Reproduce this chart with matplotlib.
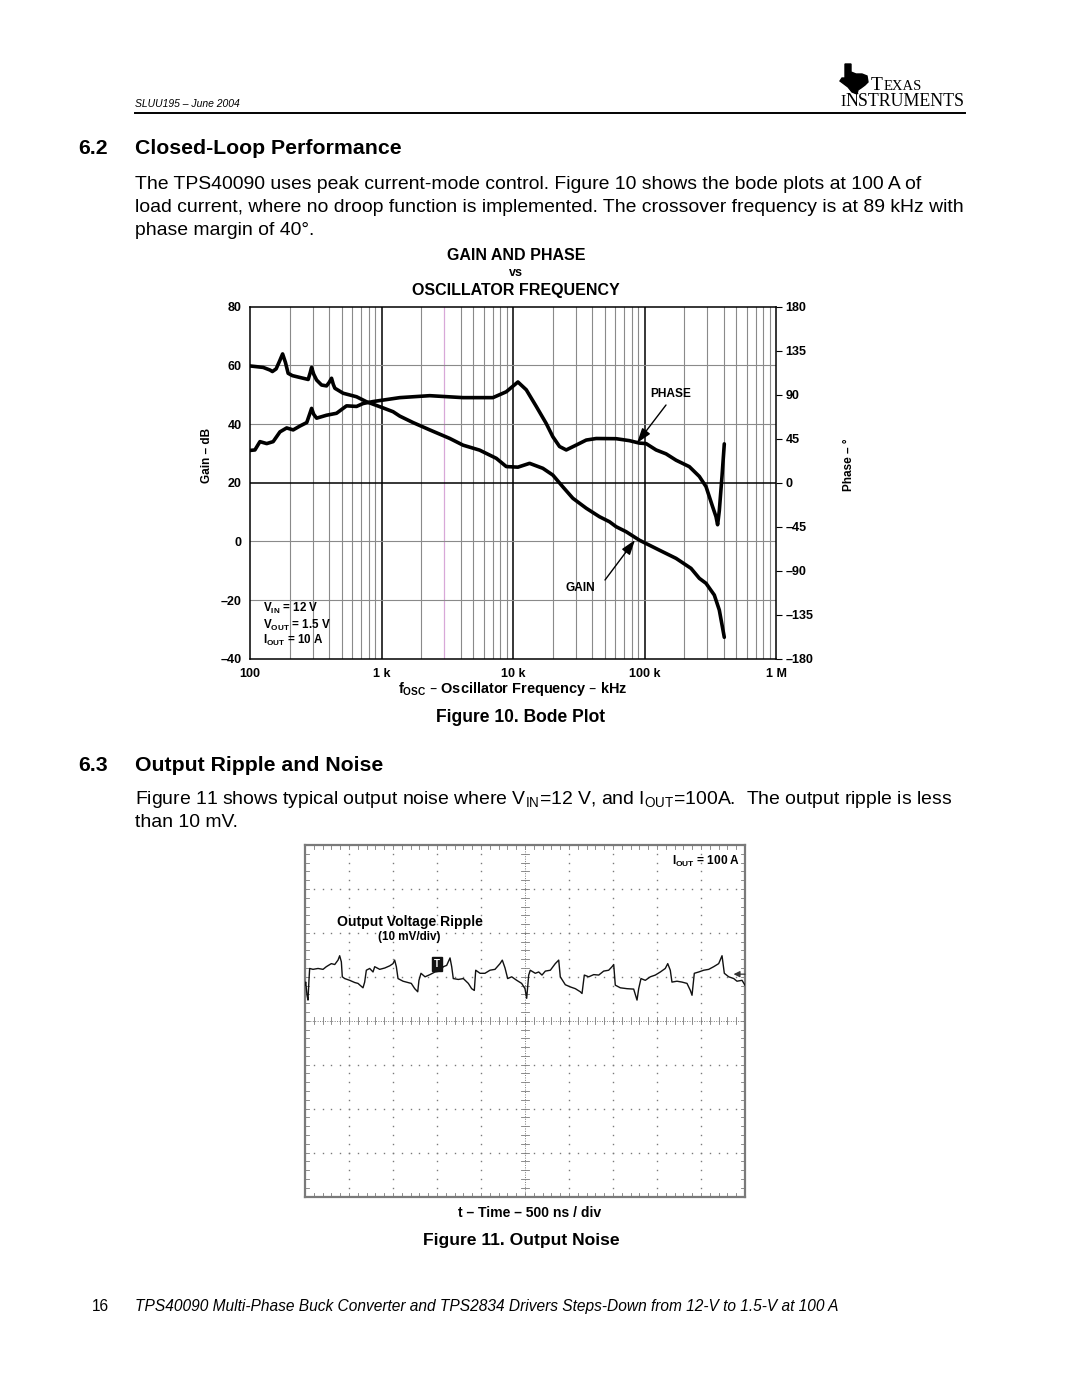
import matplotlib
matplotlib.use('Agg')
import matplotlib.pyplot as plt
from matplotlib.patches import Polygon
from matplotlib.lines import Line2D

plt.rcParams['font.family'] = ['Liberation Sans', 'DejaVu Sans']
plt.rcParams['mathtext.default'] = 'regular'

# ---------------- data ----------------
gain_freq_hz = [100, 126, 142, 148, 158, 168, 177, 186, 195, 210,
                254, 277, 287, 294, 305, 321, 350, 382, 400, 417,
                430, 442, 511, 646, 769, 1000, 1225, 1377, 1738, 2327,
                3300, 4168, 5575, 7470, 8890, 10900, 13370, 16870, 20090, 23920,
                28510, 36040, 45470, 54100, 60850, 72450, 91480, 129800, 173800, 225800,
                261200, 293600, 339500, 370500, 404400]
gain_db = [59.8, 59.3, 58.4, 57.9, 58.8, 61.5, 63.9, 61.0, 57.3, 56.5,
           55.6, 55.2, 57.5, 59.3, 57.0, 55.0, 53.3, 53.0, 54.2, 55.6,
           53.5, 52.2, 50.5, 49.3, 47.6, 45.7, 44.2, 42.7, 40.5, 38.0,
           35.1, 32.8, 31.1, 28.3, 25.5, 25.3, 26.6, 24.9, 22.6, 18.6,
           14.7, 11.3, 8.4, 6.7, 5.0, 3.3, 0.4, -3.0, -5.8, -9.2,
           -12.6, -14.3, -18.3, -23.4, -32.7]

phase_freq_hz = [100, 109, 119, 134, 150, 169, 190, 213, 240, 270,
                 284, 294, 305, 321, 382, 455, 542, 646, 725, 863,
                 1091, 1377, 2327, 4168, 7033, 7910, 8890, 10900, 12620, 15030,
                 17900, 20090, 22590, 25400, 30260, 36040, 42940, 60850, 76800, 91480,
                 102800, 122500, 145900, 173800, 219300, 261200, 293600, 329500, 349800, 359700,
                 370500, 388400, 404400]
phase_deg = [33, 33.5, 42, 40, 42, 52, 56, 54, 58, 61.5,
             70, 76, 70, 66, 69, 71, 78.6, 78, 81, 83,
             85, 87, 89, 87, 87, 90, 93, 103, 95, 78,
             60.5, 47, 37, 33.5, 38.5, 43.6, 45.2, 45, 43, 40.5,
             40, 33.5, 29.5, 23, 16.4, 6.4, -4, -24.5, -34.8, -43,
             -28.7, 6.4, 39.7]

gain_ticks = [-40, -20, 0, 20, 40, 60, 80]
gain_tick_labels = ['\u201340', '\u201320', '0', '20', '40', '60', '80']
phase_ticks = [-180, -135, -90, -45, 0, 45, 90, 135, 180]
phase_tick_labels = ['\u2013180', '\u2013135', '\u201390', '\u201345', '0', '45', '90', '135', '180']
freq_ticks = [100, 1000, 10000, 100000, 1000000]
freq_tick_labels = ['100', '1 k', '10 k', '100 k', '1 M']

time_ns = [0, 8, 23, 34, 45, 53, 91, 148, 205, 242,
           299, 338, 375, 394, 413, 424, 451, 508, 565, 602,
           659, 678, 697, 735, 773, 792, 849, 906, 963, 1000,
           1019, 1038, 1057, 1114, 1170, 1208, 1247, 1281, 1295, 1318,
           1364, 1420, 1477, 1534, 1572, 1610, 1648, 1667, 1685, 1742,
           1799, 1856, 1894, 1924, 1940, 1989, 2045, 2102, 2159, 2216,
           2242, 2273, 2303, 2349, 2406, 2462, 2500, 2519, 2542, 2560,
           2617, 2656, 2693, 2731, 2788, 2844, 2883, 2901, 2958, 3015,
           3072, 3128, 3148, 3174, 3224, 3281, 3338, 3394, 3451, 3489,
           3508, 3526, 3583, 3659, 3735, 3773, 3792, 3818, 3867, 3924,
           3981, 4038, 4094, 4122, 4151, 4170, 4227, 4284, 4341, 4379,
           4398, 4424, 4474, 4531, 4588, 4644, 4701, 4739, 4765, 4815,
           4872, 4909, 4966, 5000]
ripple_mv = [8.1, 8.8, 5.8, 4.7, 9.2, 11.9, 11.7, 11.9, 11.7, 12.3,
             13.0, 12.8, 13.8, 14.8, 13.4, 10.0, 9.6, 9.2, 8.7, 8.5,
             7.5, 8.8, 11.5, 11.9, 11.1, 12.3, 11.7, 12.0, 12.5, 13.0,
             13.8, 12.3, 9.6, 9.0, 8.7, 8.5, 7.3, 6.6, 9.2, 10.8,
             10.0, 10.5, 11.1, 11.3, 12.3, 12.6, 14.3, 12.3, 9.6, 9.4,
             9.6, 8.5, 7.3, 6.9, 11.5, 10.8, 10.8, 11.5, 11.7, 13.0,
             13.8, 12.0, 9.6, 10.0, 9.2, 8.5, 7.3, 5.1, 10.4, 11.5,
             10.8, 11.1, 10.4, 11.3, 11.5, 13.0, 13.8, 10.0, 8.2, 7.7,
             7.3, 6.6, 6.2, 10.4, 10.0, 10.5, 10.4, 11.3, 11.5, 12.3,
             12.8, 8.1, 7.5, 7.3, 7.2, 4.7, 7.3, 9.6, 9.2, 10.0,
             10.4, 11.1, 11.9, 13.0, 11.5, 8.8, 9.0, 8.8, 8.5, 6.9,
             5.8, 10.8, 11.1, 11.5, 11.7, 12.3, 13.0, 14.8, 10.8, 10.0,
             9.6, 9.0, 9.2, 8.1]

# ---------------- figure helpers ----------------
W, H = 1080, 1397
fig = plt.figure(figsize=(W / 100, H / 100), dpi=100)
fig.patch.set_facecolor('white')
R = fig.canvas.get_renderer()


def fx(x):
    return x / W


def fy(y):
    return 1 - y / H


def put(x, y, s, size, ha='left', va='baseline', **kw):
    return fig.text(fx(x), fy(y), s, fontsize=size, ha=ha, va=va, **kw)


def fit(x0, x1, y, s, ha='left', **kw):
    xa = x0 if ha == 'left' else (x0 + x1) / 2
    t = put(xa, y, s, 10, ha=ha, **kw)
    w = t.get_window_extent(R).width
    t.set_fontsize(10 * (x1 - x0) / w)
    return t


# ---------------- page header ----------------
fit(135, 240, 107, 'SLUU195 \u2013 June 2004', style='italic')
fig.add_artist(Line2D([fx(135), fx(965)], [fy(112.5), fy(112.5)], color='black', lw=1.4))

serif = ['Liberation Serif', 'DejaVu Serif']
tT = put(871, 90, 'T', 14, family=serif)
x_after = tT.get_window_extent(R).x1
put(x_after + 0.5, 90, 'EXAS', 10.5, family=serif)
tI = put(840, 106.5, 'I', 11.5, family=serif)
x_after = tI.get_window_extent(R).x1
fit(x_after, 965, 106.5, 'NSTRUMENTS', family=serif)
logo = [(845, 64), (851, 64), (851, 72), (856, 74), (862, 74), (867, 76),
        (868, 82), (865, 85), (861, 88), (858, 90), (857, 94), (852, 92),
        (848, 87), (844, 84), (840, 81), (842, 78), (845, 78)]
fig.add_artist(Polygon([(fx(a), fy(b)) for a, b in logo], closed=True,
                       transform=fig.transFigure, fc='black', ec='black'))

# ---------------- section 6.2 ----------------
th = fit(135, 400, 154, 'Closed-Loop Performance', weight='bold')
fs_head = th.get_fontsize()
put(78, 154, '6.2', fs_head, weight='bold')

tb = fit(135, 963, 212, 'load current, where no droop function is implemented. '
         'The crossover frequency is at 89 kHz with')
fs_body = tb.get_fontsize()
put(135, 189, 'The TPS40090 uses peak current-mode control. Figure 10 shows the bode plots at 100 A of', fs_body)
put(135, 235, 'phase margin of 40\u00b0.', fs_body)

fit(448, 585, 260, 'GAIN AND PHASE', ha='center', weight='bold')
put(516, 276, 'vs', 9, ha='center', weight='bold')
fit(412, 619, 295, 'OSCILLATOR FREQUENCY', ha='center', weight='bold')

# ---------------- Bode plot ----------------
ax = fig.add_axes([fx(250), fy(658.7), (776 - 250) / W, (658.7 - 306.7) / H])
ax.set_xscale('log')
ax.set_xlim(100, 1e6)
ax.set_ylim(-40, 80)
for dec in [100, 1000, 10000, 100000]:
    for k in range(1, 10):
        f = k * dec
        if 100 < f < 1e6:
            if k == 1:
                ax.axvline(f, color='black', lw=1.1, zorder=1)
            elif f == 3000:
                ax.axvline(f, color='#d8a8d8', lw=0.9, zorder=1)
            else:
                ax.axvline(f, color='#8a8a8a', lw=0.8, zorder=1)
for g in [-20, 0, 40, 60]:
    ax.axhline(g, color='#8a8a8a', lw=0.8, zorder=1)
ax.axhline(20, color='black', lw=1.1, zorder=1)

ax.plot(gain_freq_hz, gain_db, color='black', lw=2.6, solid_capstyle='round',
        solid_joinstyle='round', zorder=3)

ax.set_xticks(freq_ticks)
ax.set_xticklabels(freq_tick_labels)
ax.xaxis.set_minor_locator(matplotlib.ticker.NullLocator())
ax.set_yticks(gain_ticks)
ax.set_yticklabels(gain_tick_labels)
ax.tick_params(axis='both', length=0, labelsize=9)
ax.tick_params(axis='y', pad=6)
ax.tick_params(axis='x', pad=6.5)
for lab in ax.get_xticklabels() + ax.get_yticklabels():
    lab.set_fontweight('bold')
for sp in ax.spines.values():
    sp.set_color('black')
    sp.set_linewidth(1.1)

axp = ax.twinx()
axp.set_ylim(-180, 180)
axp.plot(phase_freq_hz, phase_deg, color='black', lw=2.6, solid_capstyle='round',
         solid_joinstyle='round', zorder=3)
axp.set_yticks(phase_ticks)
axp.set_yticklabels(phase_tick_labels)
axp.tick_params(axis='y', length=4, width=0.8, direction='out', pad=3, labelsize=9)
for lab in axp.get_yticklabels():
    lab.set_fontweight('bold')
for sp in axp.spines.values():
    sp.set_visible(False)

put(207, 455, 'Gain \u2013 dB', 8.5, ha='center', va='center', rotation=90, weight='bold')
put(849, 465, 'Phase \u2013 \u00b0', 8.5, ha='center', va='center', rotation=90, weight='bold')
fit(398, 628, 693, 'f$_{OSC}$ \u2013 Oscillator Frequency \u2013 kHz', weight='bold')

put(263.3, 611.7, r'V$_{IN}$ = 12 V', 8.4, weight='bold')
put(263.3, 629.3, r'V$_{OUT}$ = 1.5 V', 8.4, weight='bold')
put(263.3, 644.3, r'I$_{OUT}$ = 10 A', 8.4, weight='bold')

put(671, 394.5, 'PHASE', 8.6, ha='center', va='center', weight='bold')
put(580, 588, 'GAIN', 8.6, ha='center', va='center', weight='bold')
arrow = dict(arrowstyle='-|>,head_length=0.9,head_width=0.3', lw=1.0, color='black',
             shrinkA=0, shrinkB=0)
ax.annotate('', xy=(fx(637), fy(443)), xytext=(fx(666), fy(405)),
            xycoords='figure fraction', textcoords='figure fraction',
            arrowprops=arrow, annotation_clip=False)
ax.annotate('', xy=(fx(635), fy(540)), xytext=(fx(605), fy(580)),
            xycoords='figure fraction', textcoords='figure fraction',
            arrowprops=arrow, annotation_clip=False)

fit(436, 606, 722, 'Figure 10. Bode Plot', ha='center', weight='bold')

# ---------------- section 6.3 ----------------
put(78, 771, '6.3', fs_head, weight='bold')
put(135, 771, 'Output Ripple and Noise', fs_head, weight='bold')
put(135, 804, 'Figure 11 shows typical output noise where V$_{IN}$=12 V, and I$_{OUT}$=100A.  '
    'The output ripple is less', fs_body)
put(135, 827, 'than 10 mV.', fs_body)

# ---------------- scope ----------------
ax2 = fig.add_axes([fx(305), fy(1196.5), 440 / W, 351.5 / H])
ax2.set_xlim(0, 5000)
ax2.set_ylim(-40, 40)
ax2.set_xticks([])
ax2.set_yticks([])
for sp in ax2.spines.values():
    sp.set_color('#7a7a7a')
    sp.set_linewidth(1.6)

gcol = '#7a7a7a'
sub_y = [-40 + 2 * j for j in range(41)]
sub_x = [100 * j for j in range(51)]
for xv in range(500, 5000, 500):
    if xv == 2500:
        continue
    ax2.plot([xv] * len(sub_y), sub_y, ls='none', marker='s', ms=1.0, color=gcol, mew=0)
for yv in [-30, -20, -10, 10, 20, 30]:
    ax2.plot(sub_x, [yv] * len(sub_x), ls='none', marker='s', ms=1.0, color=gcol, mew=0)
ax2.axvline(2500, color=gcol, lw=0.7, ls=(0, (1, 1.5)))
ax2.axhline(0, color=gcol, lw=0.7, ls=(0, (1, 1.5)))
for yv in sub_y:
    ax2.plot([2460, 2540], [yv, yv], color=gcol, lw=0.6)
    ax2.plot([0, 40], [yv, yv], color=gcol, lw=0.6)
    ax2.plot([4960, 5000], [yv, yv], color=gcol, lw=0.6)
for xv in sub_x:
    ax2.plot([xv, xv], [-0.8, 0.8], color=gcol, lw=0.6)
    ax2.plot([xv, xv], [-40, -39.2], color=gcol, lw=0.6)
    ax2.plot([xv, xv], [39.2, 40], color=gcol, lw=0.6)

ax2.plot(time_ns, ripple_mv, color='#111111', lw=1.0, zorder=4)
ax2.text(1497, 12.9, 'T', ha='center', va='center', color='white', fontsize=7,
         weight='bold', zorder=6,
         bbox=dict(boxstyle='square,pad=0.2', fc='#111111', ec='#111111'))
ax2.annotate('', xy=(4870, 10.6), xytext=(5000, 10.6),
             arrowprops=dict(arrowstyle='-|>', color='#333333', lw=0.9,
                             mutation_scale=9, shrinkA=0, shrinkB=0),
             annotation_clip=False)

put(740, 865, r'I$_{OUT}$ = 100 A', 8.6, ha='right', weight='bold')
fit(336.7, 482.7, 926, 'Output Voltage Ripple', ha='center', weight='bold')
put(409.7, 940, '(10 mV/div)', 8.4, ha='center', weight='bold')

fit(458, 602, 1217, 't \u2013 Time \u2013 500 ns / div', ha='center', weight='bold')
fit(423, 620, 1245, 'Figure 11. Output Noise', ha='center', weight='bold')

# ---------------- footer ----------------
tf = fit(135, 842, 1311, 'TPS40090 Multi-Phase Buck Converter and TPS2834 Drivers '
         'Steps-Down from 12-V to 1.5-V at 100 A', style='italic')
put(92, 1311, '16', tf.get_fontsize())

fig.savefig('out.png', dpi=100, facecolor='white')
